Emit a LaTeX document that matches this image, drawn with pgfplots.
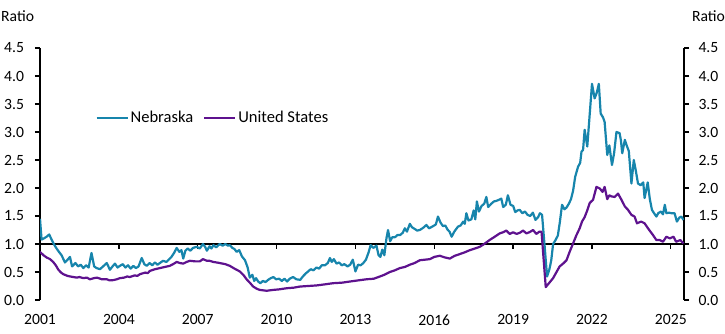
\documentclass[border=0pt]{standalone}
\usepackage{pgfplots}
\pgfplotsset{compat=1.18}
\usepackage{fontspec}
\setmainfont{Carlito}
\definecolor{neb}{RGB}{23,133,172}
\definecolor{usp}{RGB}{94,18,142}
\begin{document}
\begin{tikzpicture}[font=\fontsize{15.7}{18}\selectfont]
\useasboundingbox (-40bp,-34bp) rectangle (685bp,300bp);
% reference line at 1.0 with downward ticks
\begin{axis}[at={(0,56bp)}, anchor=south west, scale only axis, width=644bp, height=196bp,
  xmin=2001, xmax=2025.5, ymin=1, ymax=4.5,
  axis x line*=bottom, axis y line=none,
  xtick={2001,2004,...,2025}, xticklabels={}, tick align=outside, major tick length=5bp,
  x axis line style={line width=1.3bp, black, -}, xtick style={line width=1.3bp, black}]
\addplot[draw=none] coordinates {(2001,1)};
\end{axis}
% right axis
\begin{axis}[at={(0,0)}, anchor=south west, scale only axis, width=644bp, height=252bp,
  xmin=2001, xmax=2025.5, ymin=0, ymax=4.5,
  axis y line*=right, axis x line=none,
  ytick={0,0.5,...,4.5}, tick align=outside, major tick length=5bp,
  yticklabel style={/pgf/number format/fixed, /pgf/number format/fixed zerofill, /pgf/number format/precision=1, /pgf/number format/assume math mode=true, /tikz/xshift=6bp},
  y axis line style={line width=1.3bp, black, -}, ytick style={line width=1.3bp, black}]
\addplot[draw=none] coordinates {(2001,1)};
\end{axis}
% main axis
\begin{axis}[at={(0,0)}, anchor=south west, scale only axis, width=644bp, height=252bp,
  xmin=2001, xmax=2025.5, ymin=0, ymax=4.5,
  axis y line*=left, axis x line*=bottom, x axis line style={draw=none},
  xtick={2001,2004,...,2025}, major x tick style={draw=none},
  xticklabel style={/pgf/number format/1000 sep={}, /pgf/number format/assume math mode=true, /tikz/yshift=-6bp},
  ytick={0,0.5,...,4.5}, tick align=outside, major tick length=5bp,
  yticklabel style={/pgf/number format/fixed, /pgf/number format/fixed zerofill, /pgf/number format/precision=1, /pgf/number format/assume math mode=true, /tikz/xshift=-7.5bp},
  y axis line style={line width=1.3bp, black, -}, ytick style={line width=1.3bp, black},
  legend columns=2,
  legend style={draw=none, fill=none, at={(axis cs:2003.1,3.25)}, anchor=west, inner sep=0pt,
    font=\fontsize{16.6}{19}\selectfont,
    /tikz/every even column/.append style={column sep=8bp}},
  legend image code/.code={\draw[#1] (0bp,0bp) -- (31bp,0bp);}]
\addplot[neb, line width=2.2bp, line join=round] coordinates {
(2001.00,1.45) (2001.06,1.08) (2001.15,1.10) (2001.25,1.13) (2001.35,1.17) (2001.45,1.07)
(2001.55,0.98) (2001.63,0.92) (2001.72,0.86) (2001.82,0.80) (2001.95,0.67) (2002.05,0.72)
(2002.14,0.77) (2002.22,0.60) (2002.35,0.66) (2002.45,0.60) (2002.55,0.63) (2002.65,0.57)
(2002.75,0.62) (2002.85,0.58) (2002.96,0.84) (2003.06,0.60) (2003.15,0.57) (2003.28,0.55)
(2003.40,0.60) (2003.54,0.66) (2003.66,0.54) (2003.76,0.60) (2003.85,0.65) (2003.95,0.58)
(2004.04,0.61) (2004.15,0.64) (2004.25,0.58) (2004.35,0.62) (2004.45,0.56) (2004.55,0.61)
(2004.65,0.57) (2004.75,0.60) (2004.87,0.75) (2004.97,0.64) (2005.06,0.61) (2005.17,0.66)
(2005.27,0.62) (2005.37,0.67) (2005.47,0.63) (2005.56,0.66) (2005.68,0.70) (2005.81,0.68)
(2005.92,0.73) (2006.00,0.77) (2006.10,0.84) (2006.20,0.93) (2006.30,0.86) (2006.38,0.89)
(2006.45,0.74) (2006.53,0.88) (2006.62,0.92) (2006.72,0.88) (2006.82,0.93) (2006.96,0.95)
(2007.08,0.92) (2007.20,1.00) (2007.28,0.95) (2007.35,0.88) (2007.45,0.96) (2007.52,0.92)
(2007.60,0.98) (2007.70,0.94) (2007.84,1.00) (2007.95,0.97) (2008.05,1.00) (2008.15,0.97)
(2008.22,0.98) (2008.32,0.93) (2008.40,0.91) (2008.48,0.86) (2008.58,0.89) (2008.68,0.78)
(2008.80,0.71) (2008.90,0.58) (2008.98,0.40) (2009.08,0.45) (2009.15,0.34) (2009.22,0.39)
(2009.30,0.33) (2009.38,0.30) (2009.48,0.34) (2009.58,0.32) (2009.68,0.36) (2009.78,0.39)
(2009.88,0.41) (2009.98,0.37) (2010.10,0.38) (2010.20,0.34) (2010.30,0.38) (2010.40,0.33)
(2010.50,0.38) (2010.63,0.41) (2010.75,0.37) (2010.90,0.36) (2011.00,0.42) (2011.10,0.47)
(2011.20,0.51) (2011.30,0.55) (2011.40,0.53) (2011.52,0.58) (2011.62,0.56) (2011.72,0.62)
(2011.84,0.62) (2011.95,0.66) (2012.03,0.75) (2012.10,0.68) (2012.18,0.73) (2012.28,0.65)
(2012.38,0.67) (2012.48,0.62) (2012.58,0.64) (2012.70,0.60) (2012.80,0.63) (2012.90,0.72)
(2013.00,0.51) (2013.10,0.63) (2013.20,0.62) (2013.30,0.66) (2013.40,0.72) (2013.50,0.85)
(2013.58,0.98) (2013.68,0.93) (2013.80,0.97) (2013.88,0.80) (2013.95,0.77) (2014.02,0.90)
(2014.10,0.80) (2014.18,1.10) (2014.24,1.25) (2014.32,1.05) (2014.40,1.12) (2014.50,1.12)
(2014.60,1.16) (2014.70,1.16) (2014.80,1.20) (2014.88,1.28) (2014.96,1.22) (2015.07,1.36)
(2015.15,1.30) (2015.25,1.27) (2015.35,1.24) (2015.45,1.25) (2015.58,1.29) (2015.70,1.34)
(2015.80,1.28) (2015.96,1.32) (2016.06,1.35) (2016.14,1.49) (2016.24,1.38) (2016.33,1.32)
(2016.42,1.33) (2016.50,1.26) (2016.58,1.22) (2016.66,1.13) (2016.76,1.22) (2016.90,1.31)
(2017.00,1.33) (2017.10,1.40) (2017.16,1.36) (2017.22,1.55) (2017.30,1.42) (2017.41,1.44)
(2017.50,1.60) (2017.56,1.44) (2017.62,1.76) (2017.70,1.58) (2017.80,1.68) (2017.90,1.72)
(2017.98,1.84) (2018.05,1.66) (2018.17,1.72) (2018.27,1.76) (2018.36,1.77) (2018.46,1.79)
(2018.55,1.81) (2018.62,1.66) (2018.72,1.70) (2018.80,1.87) (2018.90,1.70) (2019.00,1.68)
(2019.08,1.57) (2019.17,1.60) (2019.25,1.61) (2019.35,1.55) (2019.45,1.58) (2019.55,1.52)
(2019.65,1.50) (2019.75,1.56) (2019.85,1.43) (2019.95,1.48) (2020.02,1.55) (2020.10,1.52)
(2020.20,0.95) (2020.29,0.42) (2020.38,0.55) (2020.45,0.71) (2020.52,1.00) (2020.60,1.06)
(2020.70,1.15) (2020.78,1.40) (2020.86,1.70) (2020.95,1.62) (2021.03,1.65) (2021.12,1.72)
(2021.20,1.80) (2021.28,1.95) (2021.36,2.20) (2021.47,2.38) (2021.55,2.45) (2021.60,2.65)
(2021.66,2.68) (2021.72,3.04) (2021.82,2.74) (2022.00,3.86) (2022.10,3.60) (2022.18,3.70)
(2022.26,3.86) (2022.33,3.33) (2022.42,3.26) (2022.48,3.18) (2022.58,2.59) (2022.66,2.76)
(2022.76,2.41) (2022.84,2.62) (2022.93,3.00) (2023.05,2.98) (2023.10,2.85) (2023.15,2.62)
(2023.25,2.86) (2023.32,2.76) (2023.40,2.66) (2023.50,2.08) (2023.59,2.50) (2023.67,2.30)
(2023.75,2.08) (2023.85,2.05) (2023.95,2.10) (2024.00,1.82) (2024.12,2.10) (2024.20,1.80)
(2024.28,1.61) (2024.36,1.55) (2024.45,1.49) (2024.52,1.55) (2024.62,1.58) (2024.70,1.53)
(2024.77,1.70) (2024.83,1.55) (2024.92,1.56) (2025.02,1.55) (2025.14,1.55) (2025.23,1.40)
(2025.32,1.47) (2025.40,1.49) (2025.48,1.43)
};
\addlegendentry{Nebraska}
\addplot[usp, line width=2.2bp, line join=round] coordinates {
(2001.00,0.86) (2001.13,0.80) (2001.25,0.76) (2001.38,0.73) (2001.50,0.68) (2001.60,0.62)
(2001.70,0.54) (2001.80,0.49) (2001.89,0.46) (2002.05,0.43) (2002.15,0.42) (2002.27,0.41)
(2002.40,0.40) (2002.50,0.41) (2002.65,0.39) (2002.78,0.40) (2002.90,0.37) (2003.05,0.39)
(2003.17,0.40) (2003.35,0.37) (2003.54,0.37) (2003.65,0.35) (2003.79,0.355) (2003.92,0.37)
(2004.04,0.39) (2004.20,0.40) (2004.32,0.42) (2004.42,0.41) (2004.60,0.44) (2004.70,0.43)
(2004.80,0.46) (2005.00,0.49) (2005.10,0.48) (2005.18,0.52) (2005.38,0.55) (2005.56,0.57)
(2005.75,0.59) (2005.94,0.61) (2006.10,0.65) (2006.20,0.68) (2006.32,0.66) (2006.45,0.65)
(2006.58,0.68) (2006.70,0.70) (2006.90,0.69) (2007.08,0.69) (2007.20,0.73) (2007.35,0.70)
(2007.45,0.70) (2007.59,0.68) (2007.72,0.67) (2007.84,0.66) (2008.05,0.64) (2008.22,0.61)
(2008.40,0.56) (2008.60,0.51) (2008.75,0.44) (2008.86,0.37) (2009.00,0.30) (2009.11,0.24)
(2009.25,0.20) (2009.36,0.18) (2009.62,0.165) (2009.87,0.18) (2010.10,0.19) (2010.38,0.21)
(2010.65,0.22) (2010.89,0.24) (2011.20,0.25) (2011.52,0.26) (2011.85,0.28) (2012.15,0.30)
(2012.50,0.31) (2012.79,0.33) (2013.10,0.35) (2013.42,0.37) (2013.70,0.38) (2013.93,0.42)
(2014.10,0.45) (2014.31,0.50) (2014.50,0.53) (2014.69,0.57) (2014.88,0.59) (2015.07,0.63)
(2015.25,0.66) (2015.45,0.71) (2015.65,0.72) (2015.83,0.73) (2016.00,0.77) (2016.21,0.79)
(2016.40,0.76) (2016.59,0.74) (2016.78,0.79) (2016.97,0.82) (2017.15,0.85) (2017.35,0.89)
(2017.55,0.92) (2017.73,0.95) (2017.90,1.00) (2018.10,1.07) (2018.30,1.13) (2018.49,1.19)
(2018.62,1.21) (2018.74,1.24) (2018.87,1.18) (2019.00,1.21) (2019.13,1.18) (2019.25,1.20)
(2019.38,1.24) (2019.50,1.19) (2019.62,1.21) (2019.76,1.25) (2019.88,1.18) (2020.00,1.22)
(2020.08,1.22) (2020.24,0.23) (2020.38,0.31) (2020.52,0.39) (2020.65,0.50) (2020.77,0.60)
(2020.90,0.65) (2021.03,0.71) (2021.15,0.86) (2021.28,1.01) (2021.40,1.15) (2021.53,1.28)
(2021.62,1.40) (2021.72,1.48) (2021.82,1.60) (2021.91,1.73) (2022.04,1.79) (2022.17,2.02)
(2022.30,1.99) (2022.40,1.93) (2022.48,2.02) (2022.58,1.80) (2022.66,1.87) (2022.74,1.85)
(2022.86,1.84) (2022.99,1.90) (2023.12,1.79) (2023.25,1.67) (2023.37,1.61) (2023.50,1.52)
(2023.62,1.49) (2023.71,1.37) (2023.87,1.40) (2024.00,1.37) (2024.13,1.28) (2024.32,1.16)
(2024.45,1.07) (2024.58,1.07) (2024.70,1.04) (2024.83,1.13) (2024.96,1.10) (2025.10,1.13)
(2025.20,1.04) (2025.36,1.07) (2025.48,1.01)
};
\addlegendentry{United States}
\end{axis}
\node[anchor=base west, inner sep=0pt] at (-39bp,278bp) {Ratio};
\node[anchor=base east, inner sep=0pt] at (685bp,278bp) {Ratio};
\end{tikzpicture}
\end{document}
